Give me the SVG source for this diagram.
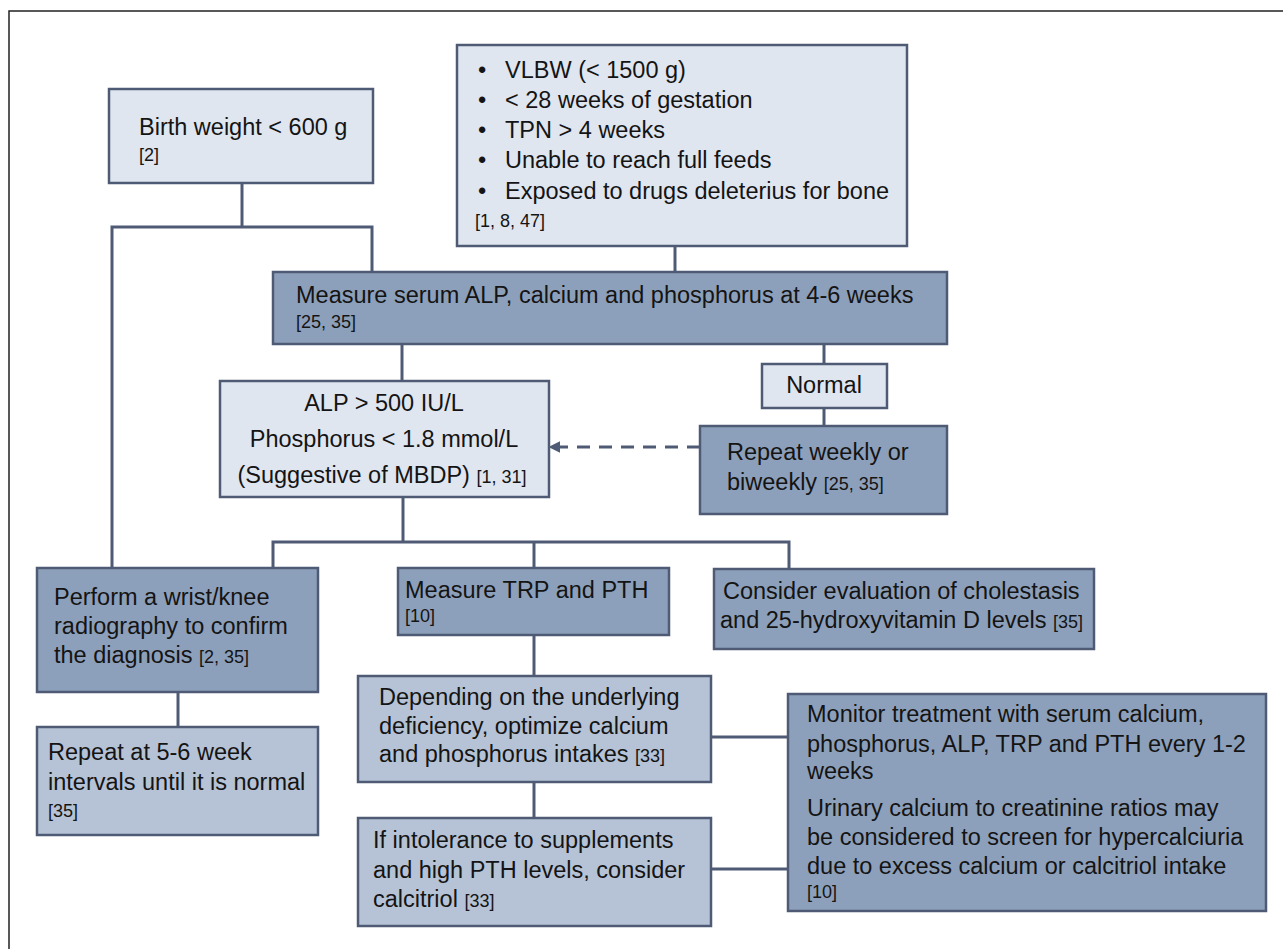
<svg xmlns="http://www.w3.org/2000/svg" width="1283" height="949" viewBox="0 0 1283 949">
<style>
text{font-family:"Liberation Sans",Arial,sans-serif;font-size:23.5px;fill:#141414}
.r{font-size:18px}
.lt{fill:#E0E6F0;stroke:#4F5B75;stroke-width:2.5}
.md{fill:#B6C3D6;stroke:#4F5B75;stroke-width:2.5}
.dk{fill:#8DA0BB;stroke:#4F5B75;stroke-width:2.5}
.c{fill:none;stroke:#4F5B75;stroke-width:3}
.dash{fill:none;stroke:#4F5B75;stroke-width:3;stroke-dasharray:13 9}
</style>
<defs>
<marker id="ah" viewBox="0 0 10 10" refX="2" refY="5" markerWidth="4" markerHeight="4" orient="auto-start-reverse">
<path d="M0,0 L10,5 L0,10 z" fill="#4F5B75"/>
</marker>
</defs>
<rect x="0" y="0" width="1283" height="949" fill="#fff"/>
<path d="M9,949 V11 H1283" fill="none" stroke="#222" stroke-width="1.5"/>

<g id="connectors">
<path class="c" d="M242,183 V227"/>
<path class="c" d="M112,568 V227 H372 V272"/>
<path class="c" d="M675,246 V272"/>
<path class="c" d="M402,344 V381"/>
<path class="c" d="M824,344 V364"/>
<path class="c" d="M824,408 V426"/>
<path class="dash" d="M700,447 H558" marker-end="url(#ah)"/>
<path class="c" d="M403,497 V542"/>
<path class="c" d="M273,568 V542 H789 V569"/>
<path class="c" d="M534,542 V568"/>
<path class="c" d="M178,692 V727"/>
<path class="c" d="M534,635 V676"/>
<path class="c" d="M534,782 V818"/>
<path class="c" d="M711,737 H788"/>
<path class="c" d="M711,869 H788"/>
</g>

<g id="birth-weight">
<rect class="lt" x="109" y="89" width="264" height="94"/>
<text x="139" y="135">Birth weight &lt; 600 g</text>
<text class="r" x="139" y="161">[2]</text>
</g>

<g id="risk-factors">
<rect class="lt" x="457" y="45" width="450" height="201"/>
<text x="478" y="78">•</text><text x="505" y="78">VLBW (&lt; 1500 g)</text>
<text x="478" y="108">•</text><text x="505" y="108">&lt; 28 weeks of gestation</text>
<text x="478" y="138">•</text><text x="505" y="138">TPN &gt; 4 weeks</text>
<text x="478" y="168">•</text><text x="505" y="168">Unable to reach full feeds</text>
<text x="478" y="199">•</text><text x="505" y="199">Exposed to drugs deleterius for bone</text>
<text class="r" x="475" y="227">[1, 8, 47]</text>
</g>

<g id="measure-serum">
<rect class="dk" x="273" y="272" width="674" height="72"/>
<text x="296" y="303">Measure serum ALP, calcium and phosphorus at 4-6 weeks</text>
<text class="r" x="296" y="328">[25, 35]</text>
</g>

<g id="alp">
<rect class="lt" x="220" y="381" width="329" height="116"/>
<text x="384" y="411" text-anchor="middle">ALP &gt; 500 IU/L</text>
<text x="384" y="447" text-anchor="middle">Phosphorus &lt; 1.8 mmol/L</text>
<text x="382" y="483" text-anchor="middle">(Suggestive of MBDP) <tspan class="r">[1, 31]</tspan></text>
</g>

<g id="normal">
<rect class="lt" x="762" y="364" width="125" height="44"/>
<text x="824" y="393" text-anchor="middle">Normal</text>
</g>

<g id="repeat-weekly">
<rect class="dk" x="700" y="426" width="247" height="88"/>
<text x="727" y="460">Repeat weekly or</text>
<text x="727" y="490">biweekly <tspan class="r">[25, 35]</tspan></text>
</g>

<g id="radiography">
<rect class="dk" x="37" y="568" width="281" height="124"/>
<text x="54" y="605">Perform a wrist/knee</text>
<text x="54" y="634">radiography to confirm</text>
<text x="54" y="663">the diagnosis  <tspan class="r">[2, 35]</tspan></text>
</g>

<g id="measure-trp">
<rect class="dk" x="398" y="568" width="271" height="67"/>
<text x="405" y="598">Measure TRP and PTH</text>
<text class="r" x="405" y="622">[10]</text>
</g>

<g id="cholestasis">
<rect class="dk" x="714" y="569" width="380" height="80"/>
<text x="723" y="599">Consider evaluation of cholestasis</text>
<text x="720" y="628">and 25-hydroxyvitamin D levels <tspan class="r">[35]</tspan></text>
</g>

<g id="repeat-radiography">
<rect class="md" x="37" y="727" width="281" height="108"/>
<text x="48" y="760">Repeat at 5-6 week</text>
<text x="48" y="790">intervals until it is normal</text>
<text class="r" x="48" y="817">[35]</text>
</g>

<g id="optimize">
<rect class="md" x="358" y="676" width="353" height="106"/>
<text x="379" y="705">Depending on the underlying</text>
<text x="379" y="734">deficiency, optimize calcium</text>
<text x="379" y="762">and phosphorus intakes <tspan class="r">[33]</tspan></text>
</g>

<g id="calcitriol">
<rect class="md" x="358" y="818" width="353" height="108"/>
<text x="373" y="848">If intolerance to supplements</text>
<text x="373" y="878">and high PTH levels, consider</text>
<text x="373" y="907">calcitriol  <tspan class="r">[33]</tspan></text>
</g>

<g id="monitor">
<rect class="dk" x="788" y="694" width="478" height="217"/>
<text x="807" y="722">Monitor treatment with serum calcium,</text>
<text x="807" y="752">phosphorus, ALP, TRP and PTH every 1-2</text>
<text x="807" y="779">weeks</text>
<text x="807" y="816">Urinary calcium to creatinine ratios may</text>
<text x="807" y="845">be considered to screen for hypercalciuria</text>
<text x="807" y="874">due to excess calcium or calcitriol intake</text>
<text class="r" x="807" y="898">[10]</text>
</g>
</svg>
